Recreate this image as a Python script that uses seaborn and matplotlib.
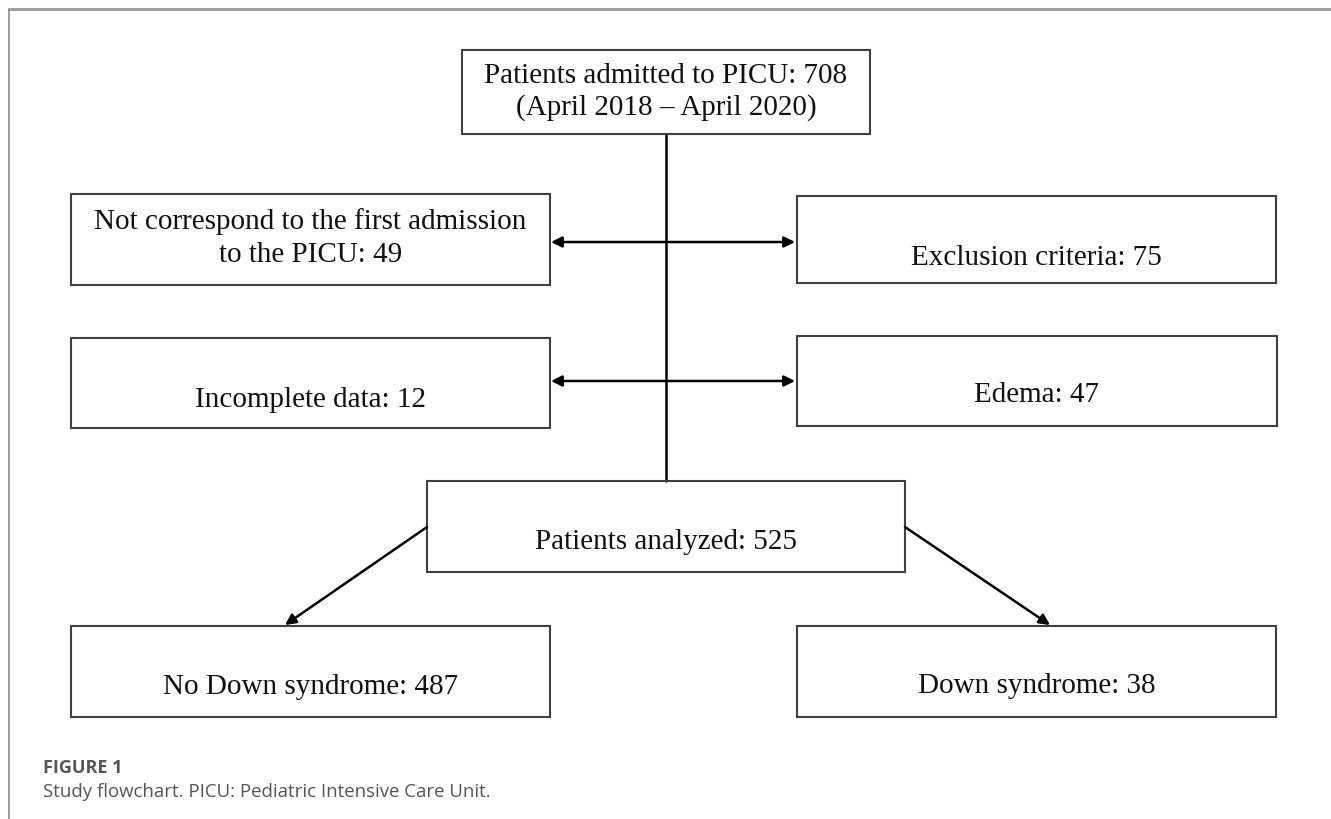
import seaborn as sns
import matplotlib.pyplot as plt
from matplotlib.patches import Rectangle

sns.set_style("white")

# box texts
top_label = "Patients admitted to PICU: 708\n(April 2018 \u2013 April 2020)"
excluded_left = ["Not correspond to the first admission\nto the PICU: 49", "Incomplete data: 12"]
excluded_right = ["Exclusion criteria: 75", "Edema: 47"]
analyzed_label = "Patients analyzed: 525"
group_labels = ["No Down syndrome: 487", "Down syndrome: 38"]
caption_head = "FIGURE 1"
caption_text = "Study flowchart. PICU: Pediatric Intensive Care Unit."

# layout in pixels (x0, y0, x1, y1, text centre y)
top_box = (462, 51, 870, 135, 92)
left_boxes = [(71, 195, 550, 286, 238), (71, 339, 550, 429, 400)]
right_boxes = [(797, 197, 1276, 284, 258), (797, 337, 1277, 427, 395)]
mid_box = (427, 482, 905, 573, 542)
bottom_boxes = [(71, 627, 550, 718, 687), (797, 627, 1276, 718, 686)]

fig = plt.figure(figsize=(13.31, 8.2), dpi=100)
ax = fig.add_axes([0, 0, 1, 1])
ax.set_xlim(0, 1331)
ax.set_ylim(820, 0)
ax.axis("off")

serif = ["Liberation Serif", "DejaVu Serif"]
fs = 21


def box(b, label, ls=1.35):
    x0, y0, x1, y1, ty = b
    ax.add_patch(Rectangle((x0, y0), x1 - x0, y1 - y0, fill=False,
                           edgecolor="#404040", lw=1.5, zorder=3))
    ax.text((x0 + x1) / 2, ty, label, ha="center", va="center",
            family=serif, fontsize=fs, color="#111111", linespacing=ls, zorder=4)


# frame
ax.plot([9, 1331], [10, 10], color="#a0a0a0", lw=2.2)
ax.plot([9, 9], [10, 820], color="#8a8a8a", lw=1.2)

box(top_box, top_label, ls=1.25)
for b, t in zip(left_boxes, excluded_left):
    box(b, t)
for b, t in zip(right_boxes, excluded_right):
    box(b, t)
box(mid_box, analyzed_label)
for b, t in zip(bottom_boxes, group_labels):
    box(b, t)

# central line
xc = 666
ax.plot([xc, xc], [top_box[3], mid_box[1]], color="black", lw=1.8, zorder=2)

arrow = dict(arrowstyle="<|-|>", color="black", lw=1.8,
             mutation_scale=16, shrinkA=0, shrinkB=0)
for y in [243, 382]:
    ax.annotate("", xy=(left_boxes[0][2] + 1, y), xytext=(right_boxes[0][0] - 2, y),
                arrowprops=arrow)

one = dict(arrowstyle="-|>", color="black", lw=1.8,
           mutation_scale=16, shrinkA=0, shrinkB=0)
ax.annotate("", xy=(285, 626), xytext=(mid_box[0], 528), arrowprops=one)
ax.annotate("", xy=(1050, 626), xytext=(mid_box[2], 528), arrowprops=one)

# caption
cap = ["Open Sans", "DejaVu Sans"]
ax.text(43, 768, caption_head, family=cap, fontsize=13, fontweight="bold",
        color="#555555", va="center", ha="left")
ax.text(43, 792, caption_text, family=cap, fontsize=13.4, color="#555555",
        va="center", ha="left")

fig.savefig("out.png", dpi=100)
